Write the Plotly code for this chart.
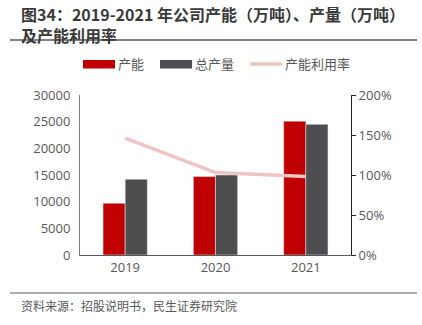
import plotly.graph_objects as go

years = ["2019", "2020", "2021"]
capacity = [9700, 14700, 25100]
production = [14200, 15000, 24500]
utilization = [1.46, 1.03, 0.98]

left_ticks = [0, 5000, 10000, 15000, 20000, 25000, 30000]
series_names = ["产能", "总产量", "产能利用率"]

RED = "#C00000"
GRAY = "#4E4E50"
PINK = "#EEC4C4"
FONT = "Open Sans, Noto Sans CJK SC"
CJK = "Noto Sans CJK SC"

L, R, T, B = 80, 71, 95, 70
W, H = 422, 325
pw, ph = W - L - R, H - T - B

def px(x):
    return (x - L) / pw

def py(y):
    return (H - B - y) / ph

fig = go.Figure()
fig.add_trace(go.Bar(x=years, y=capacity, name=series_names[0], marker_color=RED))
fig.add_trace(go.Bar(x=years, y=production, name=series_names[1], marker_color=GRAY))
fig.add_trace(go.Scatter(x=years, y=utilization, name=series_names[2], mode="lines",
                         line=dict(color=PINK, width=3.5), yaxis="y2"))

# manual legend (swatches + labels)
leg_y = 64
legend_shapes = [
    dict(type="rect", xref="paper", yref="paper", x0=px(83), x1=px(115), y0=py(68.5), y1=py(60),
         fillcolor=RED, line=dict(width=0)),
    dict(type="rect", xref="paper", yref="paper", x0=px(160), x1=px(192), y0=py(68.5), y1=py(60),
         fillcolor=GRAY, line=dict(width=0)),
    dict(type="line", xref="paper", yref="paper", x0=px(250), x1=px(282), y0=py(leg_y), y1=py(leg_y),
         line=dict(color=PINK, width=3.5)),
]
legend_annots = [
    dict(text=name, xref="paper", yref="paper", x=px(xx), y=py(leg_y), xanchor="left",
         yanchor="middle", showarrow=False, font=dict(family=CJK, size=13, color="#595959"))
    for name, xx in zip(series_names, [116, 193, 283])
]

fig.update_layout(
    width=W, height=H,
    margin=dict(l=L, r=R, t=T, b=B),
    paper_bgcolor="white", plot_bgcolor="white",
    barmode="group", bargap=0.51, bargroupgap=0,
    font=dict(family=FONT, size=13, color="#595959"),
    showlegend=False,
    xaxis=dict(type="category", showline=True, linecolor="#595959", linewidth=1.2,
               ticks="", showgrid=False, tickfont=dict(size=13)),
    yaxis=dict(range=[0, 30000], tickvals=left_ticks, showline=True, linecolor="#7F7F7F",
               linewidth=1, showgrid=False, zeroline=False, ticks="", tickformat="d",
               ticklabelstandoff=6),
    yaxis2=dict(range=[0, 2], dtick=0.5, tickformat=".0%", overlaying="y", side="right",
                showline=True, linecolor="#222222", linewidth=1, ticks="outside",
                ticklen=4, tickcolor="#222222", showgrid=False, zeroline=False),
    annotations=[
        dict(text="<b>图34：2019-2021 年公司产能（万吨）、产量（万吨）<br>及产能利用率</b>",
             xref="paper", yref="paper", align="left",
             x=px(19), y=py(24.5), xanchor="left", yanchor="middle", showarrow=False,
             font=dict(family=CJK, size=16, color="#3A3A3A")),
        dict(text="资料来源：招股说明书，民生证券研究院", xref="paper", yref="paper",
             x=px(19), y=py(305), xanchor="left", yanchor="middle", showarrow=False,
             font=dict(family=CJK, size=12, color="#595959")),
    ] + legend_annots,
    shapes=[
        dict(type="line", xref="paper", yref="paper", x0=px(10), x1=px(417), y0=py(40), y1=py(40),
             line=dict(color="#595959", width=1.5)),
        dict(type="line", xref="paper", yref="paper", x0=px(10), x1=px(417), y0=py(293), y1=py(293),
             line=dict(color="#595959", width=1)),
    ] + legend_shapes,
)

fig.write_html("out.html")
